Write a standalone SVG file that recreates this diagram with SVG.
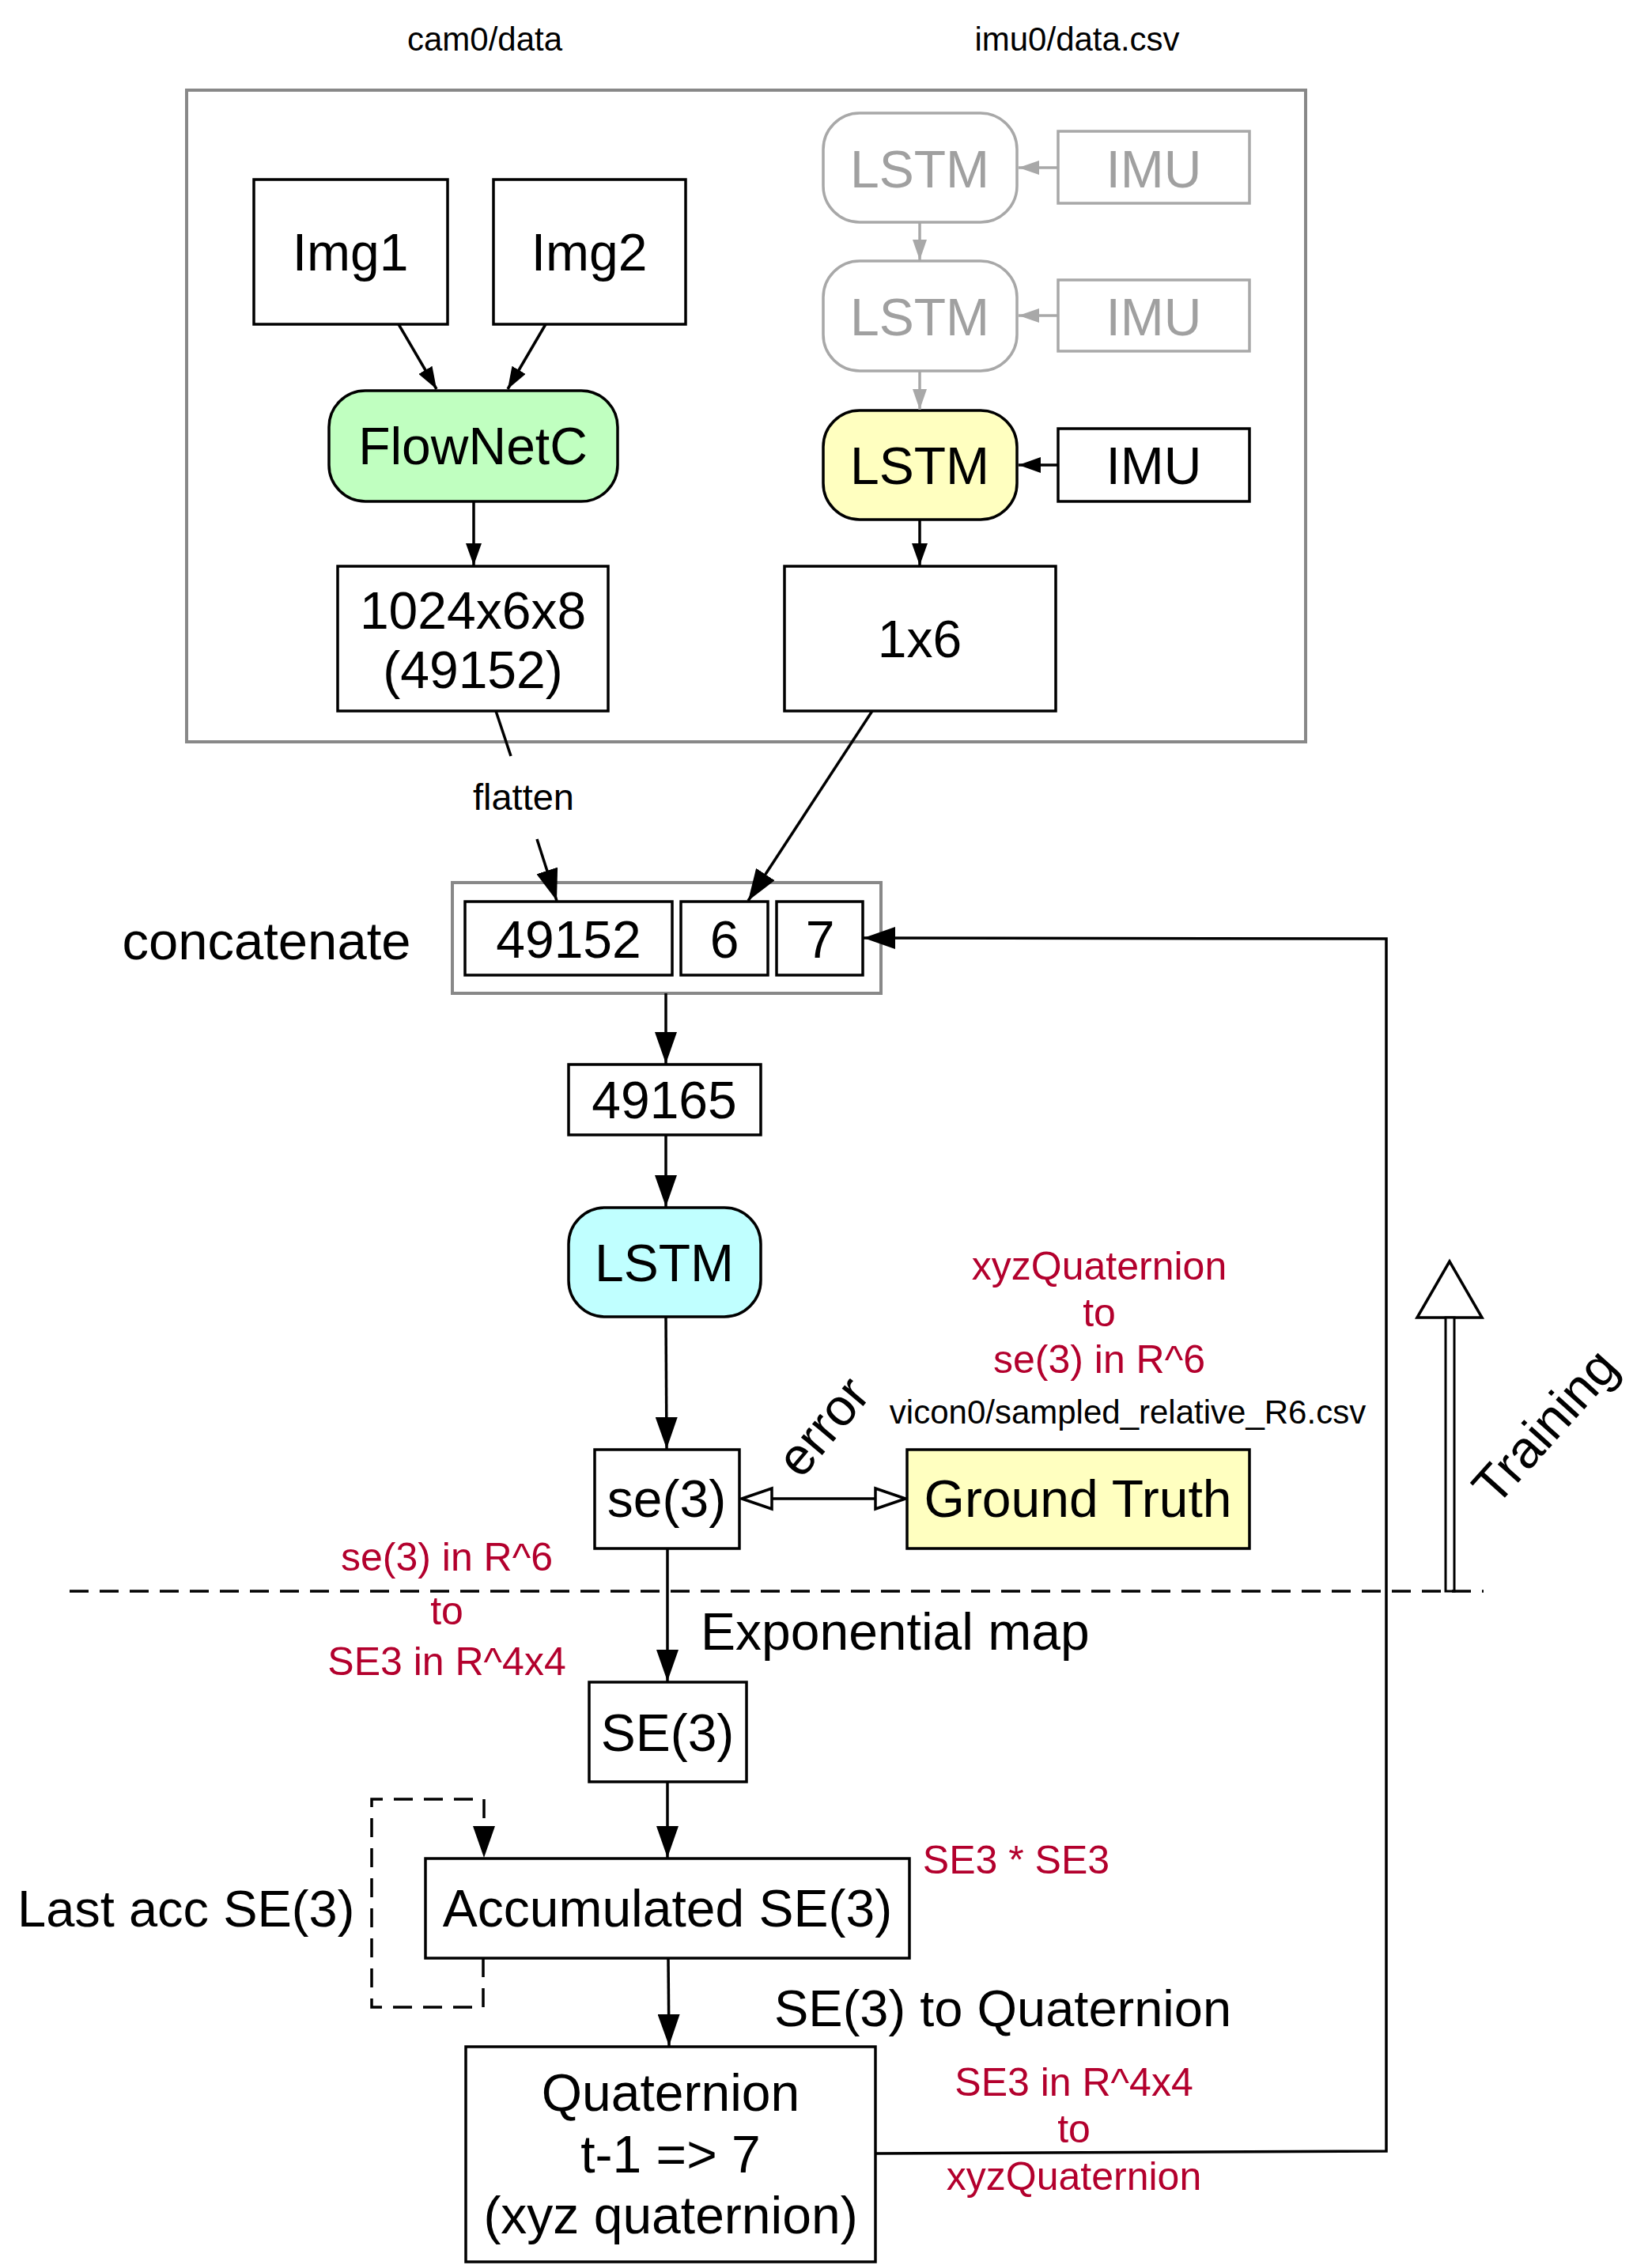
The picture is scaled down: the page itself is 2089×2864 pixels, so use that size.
<svg xmlns="http://www.w3.org/2000/svg" width="2089" height="2864" viewBox="0 0 2089 2864">
<style>
text{font-family:"Liberation Sans",Arial,Helvetica,sans-serif;fill:#000}
.n{fill:#fff;stroke:#000;stroke-width:3.5}
.g{fill:#fff;stroke:#a8a8a8;stroke-width:3.5}
.c{fill:none;stroke:#888;stroke-width:4}
.t{font-size:66px;text-anchor:middle}
.tg{font-size:66px;text-anchor:middle;fill:#a0a0a0}
.s{font-size:42px;text-anchor:middle}
.r{font-size:50px;text-anchor:middle;fill:#b3002d}
.e{fill:none;stroke:#000;stroke-width:3.5}
.eg{fill:none;stroke:#a8a8a8;stroke-width:3.5}
.d{fill:none;stroke:#000;stroke-width:3.5;stroke-dasharray:24 14}
</style>
<defs>
<marker id="a" markerUnits="userSpaceOnUse" markerWidth="28" markerHeight="20" refX="28" refY="10" orient="auto"><path d="M0,0 L28,10 L0,20 z" fill="#000"/></marker>
<marker id="A" markerUnits="userSpaceOnUse" markerWidth="40" markerHeight="28" refX="40" refY="14" orient="auto"><path d="M0,0 L40,14 L0,28 z" fill="#000"/></marker>
<marker id="ag" markerUnits="userSpaceOnUse" markerWidth="26" markerHeight="18" refX="26" refY="9" orient="auto"><path d="M0,0 L26,9 L0,18 z" fill="#a8a8a8"/></marker>
<marker id="ao" markerUnits="userSpaceOnUse" markerWidth="42" markerHeight="32" refX="40" refY="16" orient="auto-start-reverse"><path d="M2,3 L40,16 L2,29 z" fill="#fff" stroke="#000" stroke-width="3.5"/></marker>
</defs>

<text class="s" x="613" y="64">cam0/data</text>
<text class="s" x="1362" y="64">imu0/data.csv</text>

<g id="container"><rect class="c" x="236" y="114" width="1415" height="824"/></g>

<g id="img1"><rect class="n" x="321" y="227" width="245" height="183"/><text class="t" x="443" y="342">Img1</text></g>
<g id="img2"><rect class="n" x="624" y="227" width="243" height="183"/><text class="t" x="745" y="342">Img2</text></g>
<g id="flownetc"><rect class="n" x="416" y="494" width="365" height="140" rx="46" style="fill:#c0ffc0"/><text class="t" x="598" y="587">FlowNetC</text></g>
<g id="feat"><rect class="n" x="427" y="716" width="342" height="183"/><text class="t" x="598" y="795">1024x6x8</text><text class="t" x="598" y="870">(49152)</text></g>

<g id="lstm_g1"><rect class="g" x="1041" y="143" width="245" height="138" rx="46"/><text class="tg" x="1163" y="237">LSTM</text></g>
<g id="imu_g1"><rect class="g" x="1338" y="166" width="242" height="91"/><text class="tg" x="1459" y="237">IMU</text></g>
<g id="lstm_g2"><rect class="g" x="1041" y="330" width="245" height="139" rx="46"/><text class="tg" x="1163" y="424">LSTM</text></g>
<g id="imu_g2"><rect class="g" x="1338" y="354" width="242" height="90"/><text class="tg" x="1459" y="424">IMU</text></g>
<g id="lstm_y"><rect class="n" x="1041" y="519" width="245" height="138" rx="46" style="fill:#ffffc0"/><text class="t" x="1163" y="612">LSTM</text></g>
<g id="imu"><rect class="n" x="1338" y="542" width="242" height="92"/><text class="t" x="1459" y="612">IMU</text></g>
<g id="v1x6"><rect class="n" x="992" y="716" width="343" height="183"/><text class="t" x="1163" y="831">1x6</text></g>

<text x="662" y="1024" style="font-size:47px;text-anchor:middle">flatten</text>

<g id="concat"><rect class="c" x="572" y="1116" width="542" height="140"/>
<rect class="n" x="588" y="1140" width="262" height="93"/><text class="t" x="719" y="1211">49152</text>
<rect class="n" x="861" y="1140" width="110" height="93"/><text class="t" x="916" y="1211">6</text>
<rect class="n" x="982" y="1140" width="109" height="93"/><text class="t" x="1037" y="1211">7</text></g>
<text x="337" y="1213" style="font-size:67px;text-anchor:middle">concatenate</text>

<g id="v49165"><rect class="n" x="719" y="1346" width="243" height="89"/><text class="t" x="840" y="1414">49165</text></g>
<g id="lstm_c"><rect class="n" x="719" y="1527" width="243" height="138" rx="46" style="fill:#c0ffff"/><text class="t" x="840" y="1620">LSTM</text></g>
<g id="se3"><rect class="n" x="752" y="1833" width="183" height="125"/><text class="t" x="843" y="1918">se(3)</text></g>
<g id="gt"><rect class="n" x="1147" y="1833" width="433" height="125" style="fill:#ffffc0"/><text class="t" x="1363" y="1918">Ground Truth</text></g>

<text class="r" x="1390" y="1618">xyzQuaternion</text>
<text class="r" x="1390" y="1677">to</text>
<text class="r" x="1390" y="1736">se(3) in R^6</text>
<text class="s" x="1426" y="1800">vicon0/sampled_relative_R6.csv</text>
<text class="t" transform="translate(1041,1804) rotate(-50)" x="0" y="22">error</text>

<g id="training"><path d="M1833,1595 L1792,1666 L1874,1666 Z" fill="#fff" stroke="#000" stroke-width="3.5"/><rect x="1828" y="1666" width="11" height="346" fill="#fff" stroke="#000" stroke-width="3"/></g>
<text class="t" transform="translate(1954,1804) rotate(-48)" x="0" y="22">Training</text>

<line class="d" x1="88" y1="2012" x2="1876" y2="2012"/>

<text class="r" x="565" y="1986">se(3) in R^6</text>
<text class="r" x="565" y="2054">to</text>
<text class="r" x="565" y="2118">SE3 in R^4x4</text>
<text x="886" y="2086" style="font-size:66px">Exponential map</text>

<g id="SE3"><rect class="n" x="745" y="2127" width="199" height="126"/><text class="t" x="844" y="2214">SE(3)</text></g>
<g id="acc"><rect class="n" x="538" y="2350" width="612" height="126"/><text class="t" x="844" y="2436">Accumulated SE(3)</text></g>
<text x="22" y="2436" style="font-size:65px">Last acc SE(3)</text>
<text class="r" x="1285" y="2369">SE3 * SE3</text>
<text x="979" y="2562" style="font-size:65px">SE(3) to Quaternion</text>

<g id="quat"><rect class="n" x="589" y="2588" width="518" height="272"/><text class="t" x="848" y="2669">Quaternion</text><text class="t" x="848" y="2747">t-1 =&gt; 7</text><text class="t" x="848" y="2824">(xyz quaternion)</text></g>
<text class="r" x="1358" y="2650">SE3 in R^4x4</text>
<text class="r" x="1358" y="2709">to</text>
<text class="r" x="1358" y="2769">xyzQuaternion</text>

<g id="connectors">
<line class="e" x1="504" y1="410" x2="552" y2="492" marker-end="url(#a)"/>
<line class="e" x1="690" y1="410" x2="642" y2="492" marker-end="url(#a)"/>
<line class="e" x1="599" y1="634" x2="599" y2="715" marker-end="url(#a)"/>
<line class="eg" x1="1338" y1="212" x2="1288" y2="212" marker-end="url(#ag)"/>
<line class="eg" x1="1338" y1="399" x2="1288" y2="399" marker-end="url(#ag)"/>
<line class="eg" x1="1163" y1="281" x2="1163" y2="329" marker-end="url(#ag)"/>
<line class="eg" x1="1163" y1="469" x2="1163" y2="518" marker-end="url(#ag)"/>
<line class="e" x1="1338" y1="588" x2="1288" y2="588" marker-end="url(#a)"/>
<line class="e" x1="1163" y1="657" x2="1163" y2="715" marker-end="url(#a)"/>
<line class="e" x1="627" y1="899" x2="646" y2="956"/>
<line class="e" x1="679" y1="1061" x2="704" y2="1139" marker-end="url(#A)"/>
<line class="e" x1="1103" y1="899" x2="946" y2="1139" marker-end="url(#A)"/>
<line class="e" x1="842" y1="1256" x2="842" y2="1345" marker-end="url(#A)"/>
<line class="e" x1="842" y1="1435" x2="842" y2="1526" marker-end="url(#A)"/>
<line class="e" x1="842" y1="1665" x2="843" y2="1832" marker-end="url(#A)"/>
<line class="e" x1="938" y1="1895" x2="1145" y2="1895" marker-start="url(#ao)" marker-end="url(#ao)"/>
<line class="e" x1="844" y1="1958" x2="844" y2="2126" marker-end="url(#A)"/>
<line class="e" x1="844" y1="2253" x2="844" y2="2349" marker-end="url(#A)"/>
<line class="e" x1="845" y1="2476" x2="846" y2="2587" marker-end="url(#A)"/>
<path class="d" d="M611,2476 L611,2538 L470,2538 L470,2275 L612,2275 L612,2349" marker-end="url(#A)"/>
<path class="e" d="M1107,2723 L1753,2720 L1753,1187 L1092,1186" marker-end="url(#A)"/>
</g>
</svg>
